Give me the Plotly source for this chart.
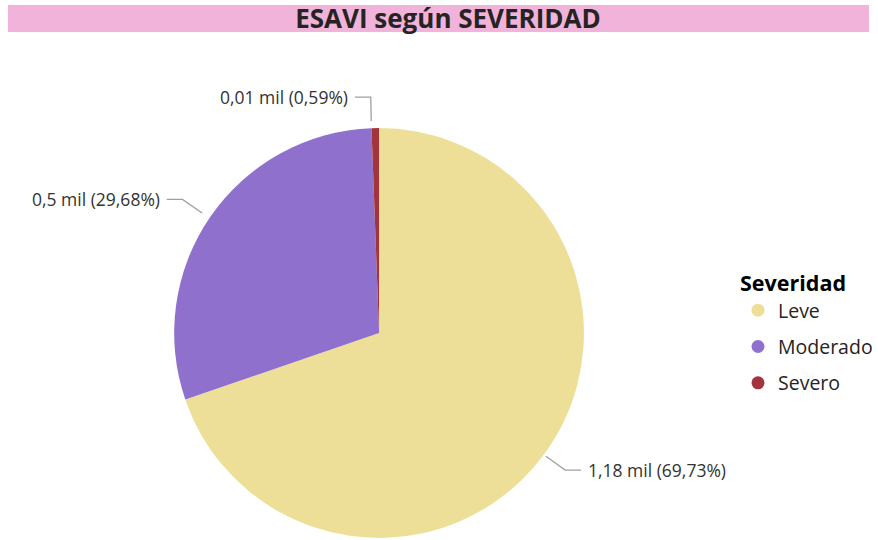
import math
import plotly.graph_objects as go

# ---- data ----
categories = ["Leve", "Moderado", "Severo"]
values = [1182, 503, 10]
colors = ["#EEDF98", "#8F71CD", "#A3343B"]
title_text = "ESAVI según SEVERIDAD"
legend_title = "Severidad"

W, H = 878, 540
# pie geometry in pixels (layout)
CX, CY, R = 383, 333, 207
FONT = "Segoe UI, Open Sans, DejaVu Sans"

def fmt_mil(v):
    s = f"{v/1000:.2f}".rstrip("0").rstrip(".")
    return s.replace(".", ",")

def fmt_pct(p):
    return f"{p*100:.2f}".replace(".", ",") + "%"

total = sum(values)
labels_txt = [f"{fmt_mil(v)} mil ({fmt_pct(v/total)})" for v in values]

fig = go.Figure()
fig.add_trace(go.Pie(
    labels=categories, values=values, sort=False, direction="clockwise",
    rotation=0, marker=dict(colors=colors, line=dict(width=0)),
    textinfo="none", hoverinfo="label+value+percent", showlegend=False,
    domain=dict(x=[(CX - R) / W, (CX + R) / W],
                y=[max(0, 1 - (CY + R) / H), 1 - (CY - R) / H]),
))

# legend entries with circle markers
for c, col in zip(categories, colors):
    fig.add_trace(go.Scatter(x=[None], y=[None], mode="markers", name=c,
                             legendgroup=c,
                             marker=dict(color=col, size=13, symbol="circle")))

def px2paper(x, y):
    return x / W, 1 - y / H

# actual drawn pie centre/radius (plotly insets slightly)
PCX, PCY, PR = CX - 4, CY, R - 1

shapes = []
annotations = []
cum = 0
for v, txt in zip(values, labels_txt):
    mid = (cum + v / 2) / total
    cum += v
    ang = 2 * math.pi * mid
    s, c = math.sin(ang), -math.cos(ang)
    ax, ay = PCX + (PR + 6) * s, PCY + (PR + 6) * c
    r_el = PR + 30
    bx, by = PCX + r_el * s, PCY + r_el * c
    side = 1 if s > 0.05 else -1
    hx = bx + side * 16
    p1 = px2paper(ax, ay); p2 = px2paper(bx, by); p3 = px2paper(hx, by)
    shapes.append(dict(type="path", xref="paper", yref="paper",
                       path=f"M {p1[0]},{p1[1]} L {p2[0]},{p2[1]} L {p3[0]},{p3[1]}",
                       line=dict(color="#A0A0A0", width=1.3)))
    tx = px2paper(hx + side * 5, by)
    annotations.append(dict(x=tx[0], y=tx[1], xref="paper", yref="paper",
                            text=txt, showarrow=False,
                            xanchor="left" if side > 0 else "right", yanchor="middle",
                            font=dict(size=17.5, color="#333333", family=FONT)))

# title bar
shapes.append(dict(type="rect", xref="paper", yref="paper", x0=8 / W, x1=1,
                   y0=1 - 32 / H, y1=1 - 5 / H, fillcolor="#F2B3DA",
                   line=dict(width=0), layer="below"))

fig.update_layout(
    width=W, height=H, margin=dict(l=0, r=0, t=0, b=0),
    paper_bgcolor="white", plot_bgcolor="white",
    title=dict(text=f"<b>{title_text}</b>", x=448 / W, xanchor="center",
               y=1 - 19 / H, yanchor="middle",
               font=dict(size=26, color="#252423", family=FONT)),
    xaxis=dict(visible=False), yaxis=dict(visible=False),
    shapes=shapes, annotations=annotations,
    legend=dict(x=746 / W, xanchor="left", y=1 - 263 / H, yanchor="top",
                title=dict(text=f"<b>{legend_title}</b>", side="top",
                           font=dict(size=21.5, color="#000000", family=FONT)),
                font=dict(size=19.5, color="#252423", family=FONT),
                traceorder="grouped", tracegroupgap=8, itemwidth=30,
                bgcolor="rgba(0,0,0,0)"),
)
fig.write_html("out.html", config={"displayModeBar": False},
               post_script="document.body.style.margin='0';document.body.style.overflow='hidden';")
